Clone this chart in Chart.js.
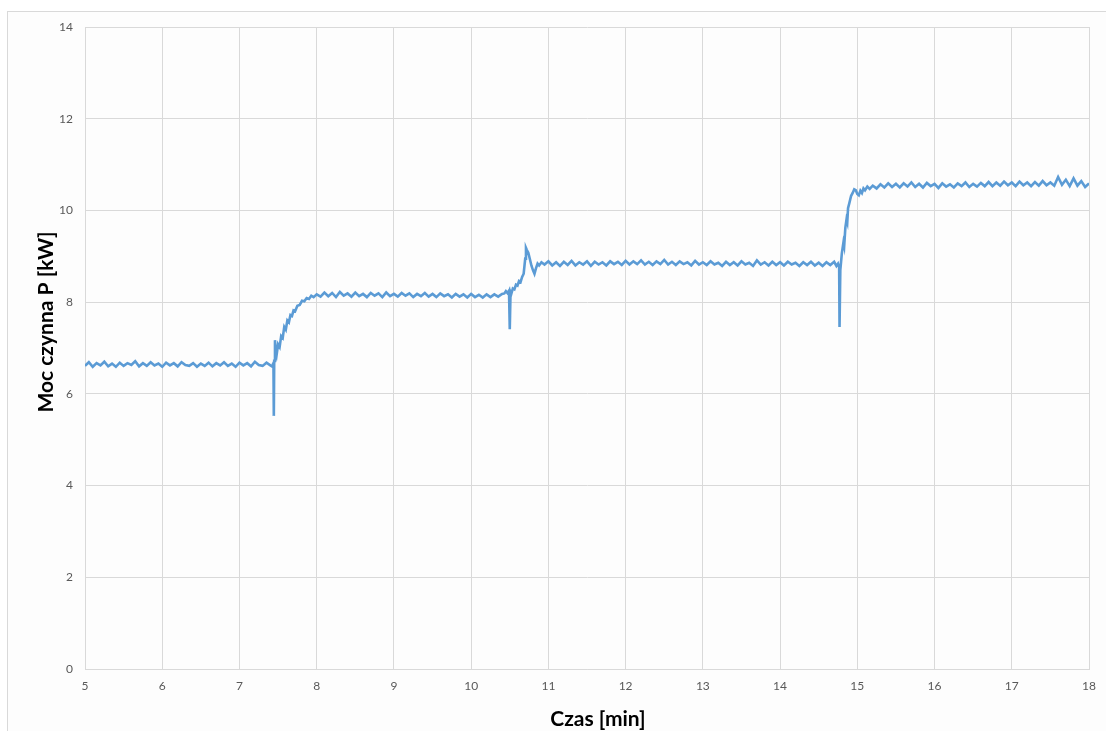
<!DOCTYPE html>
<html lang="pl">
<head>
<meta charset="utf-8">
<title>Moc czynna P</title>
<script src="https://cdn.jsdelivr.net/npm/chart.js@4/dist/chart.umd.min.js"></script>
<style>
  html, body { margin: 0; padding: 0; background: #ffffff; overflow: hidden; }
  #frame {
    position: absolute; left: 7px; top: 11px; width: 1200px; height: 800px;
    border: 1px solid #d9d9d9; background: #fdfdfd;
  }
  #wrap { position: absolute; left: 0; top: 0; width: 1106px; height: 731px; }
</style>
</head>
<body>
<div id="frame"></div>
<div id="wrap"><canvas id="chart" width="1106" height="731"></canvas></div>
<script>
'use strict';

const X_TITLE = 'Czas [min]';
const Y_TITLE = 'Moc czynna P [kW]';
const X_TICKS = [5, 6, 7, 8, 9, 10, 11, 12, 13, 14, 15, 16, 17, 18];
const Y_TICKS = [0, 2, 4, 6, 8, 10, 12, 14];

// czas [min]
const czas = [
  5.00, 5.05, 5.10, 5.15, 5.20, 5.25, 5.30, 5.35, 5.40, 5.45,
  5.50, 5.55, 5.60, 5.65, 5.70, 5.75, 5.80, 5.85, 5.90, 5.95,
  6.00, 6.05, 6.10, 6.15, 6.20, 6.25, 6.30, 6.35, 6.40, 6.45,
  6.50, 6.55, 6.60, 6.65, 6.70, 6.75, 6.80, 6.85, 6.90, 6.95,
  7.00, 7.05, 7.10, 7.15, 7.20, 7.25, 7.30, 7.35, 7.40,
  // skok 1
  7.42, 7.44, 7.445, 7.45, 7.46, 7.47, 7.48, 7.50, 7.52, 7.54,
  7.56, 7.58, 7.60, 7.62, 7.64, 7.66, 7.68, 7.70, 7.72, 7.75,
  7.78, 7.81, 7.84, 7.87, 7.90, 7.93, 7.96, 8.00,
  8.05, 8.10, 8.15, 8.20, 8.25, 8.30, 8.35, 8.40, 8.45, 8.50,
  8.55, 8.60, 8.65, 8.70, 8.75, 8.80, 8.85, 8.90, 8.95, 9.00,
  9.05, 9.10, 9.15, 9.20, 9.25, 9.30, 9.35, 9.40, 9.45, 9.50,
  9.55, 9.60, 9.65, 9.70, 9.75, 9.80, 9.85, 9.90, 9.95, 10.00,
  10.05, 10.10, 10.15, 10.20, 10.25, 10.30, 10.35, 10.40,
  // skok 2
  10.43, 10.45, 10.47, 10.49, 10.50, 10.51, 10.52, 10.54, 10.56, 10.58,
  10.60, 10.62, 10.64, 10.66, 10.68, 10.70, 10.71, 10.72, 10.74, 10.76,
  10.78, 10.80, 10.82, 10.84, 10.86, 10.88, 10.91,
  10.95, 11.00, 11.05, 11.10, 11.15, 11.20, 11.25, 11.30, 11.35, 11.40,
  11.45, 11.50, 11.55, 11.60, 11.65, 11.70, 11.75, 11.80, 11.85, 11.90,
  11.95, 12.00, 12.05, 12.10, 12.15, 12.20, 12.25, 12.30, 12.35, 12.40,
  12.45, 12.50, 12.55, 12.60, 12.65, 12.70, 12.75, 12.80, 12.85, 12.90,
  12.95, 13.00, 13.05, 13.10, 13.15, 13.20, 13.25, 13.30, 13.35, 13.40,
  13.45, 13.50, 13.55, 13.60, 13.65, 13.70, 13.75, 13.80, 13.85, 13.90,
  13.95, 14.00, 14.05, 14.10, 14.15, 14.20, 14.25, 14.30, 14.35, 14.40,
  14.45, 14.50, 14.55, 14.60, 14.65, 14.70,
  // skok 3
  14.73, 14.75, 14.765, 14.77, 14.78, 14.80, 14.82, 14.83, 14.845, 14.86,
  14.87, 14.88, 14.90, 14.92, 14.94, 14.96, 14.98, 15.00, 15.02, 15.04,
  15.06, 15.08, 15.10, 15.13, 15.16, 15.20,
  15.25, 15.30, 15.35, 15.40, 15.45, 15.50, 15.55, 15.60, 15.65, 15.70,
  15.75, 15.80, 15.85, 15.90, 15.95, 16.00, 16.05, 16.10, 16.15, 16.20,
  16.25, 16.30, 16.35, 16.40, 16.45, 16.50, 16.55, 16.60, 16.65, 16.70,
  16.75, 16.80, 16.85, 16.90, 16.95, 17.00, 17.05, 17.10, 17.15, 17.20,
  17.25, 17.30, 17.35, 17.40, 17.45, 17.50, 17.55, 17.60, 17.65, 17.70,
  17.75, 17.80, 17.85, 17.90, 17.95, 18.00,
];

// moc czynna P [kW]
const moc = [
  6.61, 6.69, 6.59, 6.67, 6.62, 6.70, 6.60, 6.66, 6.59, 6.68,
  6.61, 6.67, 6.63, 6.71, 6.60, 6.67, 6.61, 6.69, 6.62, 6.66,
  6.59, 6.68, 6.62, 6.67, 6.60, 6.69, 6.63, 6.61, 6.67, 6.59,
  6.66, 6.61, 6.68, 6.60, 6.67, 6.62, 6.69, 6.61, 6.66, 6.59,
  6.68, 6.62, 6.67, 6.60, 6.70, 6.63, 6.61, 6.68, 6.62,
  // skok 1
  6.60, 6.67, 5.52, 6.72, 7.17, 6.90, 6.84, 7.08, 7.02, 7.26,
  7.22, 7.46, 7.40, 7.60, 7.56, 7.72, 7.70, 7.82, 7.80, 7.92,
  7.94, 8.03, 8.02, 8.09, 8.07, 8.14, 8.11, 8.17,
  8.12, 8.21, 8.13, 8.20, 8.11, 8.22, 8.14, 8.19, 8.12, 8.21,
  8.13, 8.18, 8.11, 8.20, 8.14, 8.19, 8.11, 8.21, 8.13, 8.18,
  8.12, 8.20, 8.14, 8.19, 8.11, 8.18, 8.13, 8.20, 8.12, 8.18,
  8.11, 8.19, 8.13, 8.17, 8.10, 8.18, 8.12, 8.17, 8.10, 8.18,
  8.11, 8.16, 8.10, 8.17, 8.11, 8.17, 8.12, 8.18,
  // skok 2
  8.19, 8.24, 8.20, 8.25, 7.41, 8.22, 8.18, 8.30, 8.28, 8.38,
  8.36, 8.46, 8.44, 8.55, 8.62, 8.95, 9.18, 9.14, 9.08, 8.94,
  8.80, 8.70, 8.62, 8.74, 8.84, 8.80, 8.87,
  8.82, 8.89, 8.80, 8.87, 8.79, 8.88, 8.81, 8.90, 8.80, 8.87,
  8.82, 8.89, 8.79, 8.88, 8.82, 8.87, 8.80, 8.89, 8.83, 8.88,
  8.81, 8.90, 8.82, 8.89, 8.83, 8.91, 8.82, 8.88, 8.81, 8.89,
  8.83, 8.92, 8.82, 8.88, 8.81, 8.89, 8.83, 8.87, 8.80, 8.90,
  8.82, 8.87, 8.81, 8.89, 8.82, 8.86, 8.79, 8.88, 8.81, 8.87,
  8.80, 8.89, 8.82, 8.86, 8.79, 8.91, 8.82, 8.87, 8.80, 8.88,
  8.81, 8.87, 8.80, 8.88, 8.82, 8.86, 8.79, 8.87, 8.81, 8.88,
  8.80, 8.86, 8.79, 8.87, 8.81, 8.88,
  // skok 3
  8.79, 8.84, 8.76, 7.46, 8.70, 9.07, 9.30, 9.22, 9.62, 9.80,
  9.74, 10.05, 10.18, 10.32, 10.38, 10.46, 10.44, 10.36, 10.33, 10.43,
  10.38, 10.48, 10.44, 10.52, 10.47, 10.54,
  10.48, 10.57, 10.50, 10.59, 10.51, 10.58, 10.50, 10.59, 10.52, 10.61,
  10.51, 10.58, 10.50, 10.60, 10.53, 10.58, 10.49, 10.59, 10.52, 10.57,
  10.50, 10.59, 10.53, 10.61, 10.51, 10.58, 10.52, 10.60, 10.53, 10.62,
  10.53, 10.61, 10.54, 10.63, 10.55, 10.61, 10.53, 10.63, 10.55, 10.61,
  10.53, 10.62, 10.54, 10.64, 10.55, 10.61, 10.54, 10.73, 10.56, 10.67,
  10.53, 10.70, 10.54, 10.64, 10.51, 10.59,
];

const LINE_COLOR = '#5b9bd5';
const GRID_COLOR = '#d9d9d9';
const TICK_COLOR = '#595959';

// axis titles drawn at the spots they sit in the reference
const axisTitles = {
  id: 'axisTitles',
  afterDraw(chart) {
    const { ctx } = chart;
    ctx.save();
    ctx.fillStyle = '#000000';
    ctx.font = 'bold 21px Lato';
    ctx.textAlign = 'center';
    ctx.textBaseline = 'middle';
    ctx.fillText(X_TITLE, 598, 719);
    ctx.translate(46, 322);
    ctx.rotate(-Math.PI / 2);
    ctx.fillText(Y_TITLE, 0, 0);
    ctx.restore();
  },
};

new Chart(document.getElementById('chart'), {
  type: 'line',
  data: {
    datasets: [{
      data: czas.map((t, i) => ({ x: t, y: moc[i] })),
      borderColor: LINE_COLOR,
      borderWidth: 2.6,
      pointRadius: 0,
      tension: 0,
    }],
  },
  options: {
    responsive: false,
    animation: false,
    events: [],
    layout: { padding: { left: 0, top: 27, right: 17, bottom: 0 } },
    plugins: {
      legend: { display: false },
      tooltip: { enabled: false },
    },
    scales: {
      x: {
        type: 'linear',
        min: 5,
        max: 18,
        afterFit: s => { s.height = 62; },
        afterBuildTicks: s => { s.ticks = X_TICKS.map(v => ({ value: v })); },
        ticks: { color: TICK_COLOR, font: { family: 'Lato', size: 12 }, padding: 10, maxRotation: 0 },
        grid: { color: GRID_COLOR, drawTicks: false },
        border: { color: GRID_COLOR },
      },
      y: {
        min: 0,
        max: 14,
        afterFit: s => { s.width = 85; },
        afterBuildTicks: s => { s.ticks = Y_TICKS.map(v => ({ value: v })); },
        ticks: { color: TICK_COLOR, font: { family: 'Lato', size: 12 }, padding: 12 },
        grid: { color: GRID_COLOR, drawTicks: false },
        border: { color: GRID_COLOR },
      },
    },
  },
  plugins: [axisTitles],
});
</script>
</body>
</html>
